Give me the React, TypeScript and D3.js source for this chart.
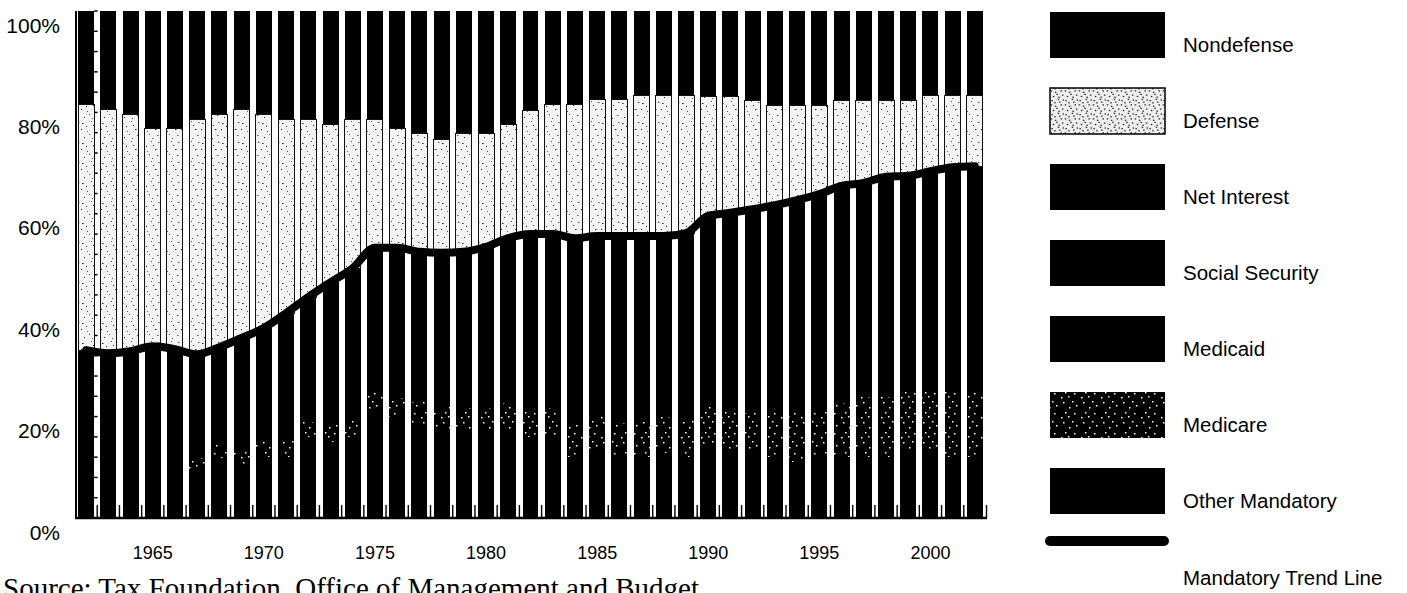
import React from 'react';
import * as d3 from 'd3';

// ---------- DATA (percent of total federal outlays) ----------
const years = [
  1962, 1963, 1964, 1965, 1966, 1967, 1968, 1969, 1970, 1971,
  1972, 1973, 1974, 1975, 1976, 1977, 1978, 1979, 1980, 1981,
  1982, 1983, 1984, 1985, 1986, 1987, 1988, 1989, 1990, 1991,
  1992, 1993, 1994, 1995, 1996, 1997, 1998, 1999, 2000, 2001, 2002,
];

const otherMandatory = [
  13.6, 11.8, 12.7, 12.1, 11.3, 9.1, 11.8, 10.5, 12.0, 12.0,
  16.0, 15.0, 16.0, 20.9, 19.9, 18.3, 17.0, 17.0, 17.0, 17.0,
  16.0, 16.4, 12.0, 13.0, 12.0, 12.0, 12.8, 12.0, 14.0, 13.0,
  13.0, 12.0, 11.0, 12.0, 12.0, 12.0, 12.0, 13.0, 13.0, 12.0, 12.0,
];

const medicare = [
  0, 0, 0, 0, 0.1, 2.8, 2.6, 3.0, 3.0, 3.4,
  3.0, 3.4, 3.4, 4.3, 3.7, 4.5, 4.9, 4.7, 4.7, 5.7,
  5.3, 5.3, 6.7, 6.9, 6.7, 6.9, 7.1, 7.3, 7.9, 7.9,
  7.7, 8.7, 10.3, 9.5, 10.7, 11.8, 11.8, 11.8, 11.8, 12.8, 12.8,
];

const medicaid = [
  0, 0, 0, 0, 0.6, 1.0, 1.2, 1.3, 1.4, 1.6,
  1.9, 1.8, 1.9, 2.1, 2.1, 2.4, 2.4, 2.5, 2.4, 2.4,
  2.3, 2.3, 2.4, 2.4, 2.5, 2.7, 2.9, 3.0, 3.1, 3.8,
  4.6, 5.3, 5.6, 5.9, 6.5, 6.3, 5.9, 5.9, 7.1, 7.1, 7.3,
];

const socialSecurity = [
  13.0, 13.7, 13.2, 14.5, 14.3, 12.9, 11.9, 13.8, 13.7, 16.4,
  16.0, 19.2, 20.1, 19.0, 20.4, 20.0, 20.3, 19.8, 20.5, 20.0,
  21.0, 20.9, 21.1, 19.6, 20.7, 20.2, 18.5, 19.1, 19.9, 21.2,
  21.2, 21.6, 21.9, 21.2, 20.8, 20.8, 23.0, 23.3, 24.0, 26.2, 27.3,
];

const netInterest = [
  6.5, 7.0, 7.0, 7.3, 7.0, 6.5, 6.2, 6.9, 7.4, 7.0,
  6.7, 7.1, 7.9, 7.0, 7.2, 7.3, 7.7, 8.5, 8.9, 10.1,
  11.4, 11.1, 13.0, 13.7, 13.7, 13.8, 14.3, 14.8, 14.7, 14.3,
  14.4, 14.1, 13.9, 15.3, 15.5, 15.2, 14.6, 13.5, 12.5, 11.1, 10.0,
];

const defense = [
  48.6, 48.2, 46.8, 43.0, 43.6, 46.4, 46.0, 45.2, 42.2, 38.3,
  35.1, 31.2, 29.4, 25.4, 23.6, 23.4, 22.5, 23.4, 22.4, 22.5,
  24.5, 25.7, 26.5, 27.0, 27.0, 27.8, 27.8, 27.2, 23.6, 23.0,
  21.5, 19.8, 18.8, 17.6, 16.9, 16.3, 15.1, 14.9, 15.0, 14.2, 14.0,
];

const nondefense = [
  18.3, 19.3, 20.3, 23.1, 23.1, 21.3, 20.3, 19.3, 20.3, 21.3,
  21.3, 22.3, 21.3, 21.3, 23.1, 24.1, 25.2, 24.1, 24.1, 22.3,
  19.5, 18.3, 18.3, 17.4, 17.4, 16.6, 16.6, 16.6, 16.8, 16.8,
  17.6, 18.5, 18.5, 18.5, 17.6, 17.6, 17.6, 17.6, 16.6, 16.6, 16.6,
];

const mandatoryTrend = [
  33.1, 32.5, 32.9, 33.9, 33.3, 32.3, 33.7, 35.5, 37.5, 40.4,
  43.6, 46.5, 49.3, 53.3, 53.3, 52.5, 52.3, 52.5, 53.5, 55.2,
  56.0, 56.0, 55.2, 55.6, 55.6, 55.6, 55.6, 56.2, 59.6, 60.2,
  60.9, 61.7, 62.7, 63.9, 65.5, 66.1, 67.3, 67.5, 68.4, 69.2, 69.4,
];

const seriesKeys = [
  'Other Mandatory', 'Medicare', 'Medicaid', 'Social Security',
  'Net Interest', 'Defense', 'Nondefense',
];
const seriesValues = [
  otherMandatory, medicare, medicaid, socialSecurity,
  netInterest, defense, nondefense,
];
const legendLabels = [
  'Nondefense', 'Defense', 'Net Interest', 'Social Security',
  'Medicaid', 'Medicare', 'Other Mandatory',
];
const trendLabel = 'Mandatory Trend Line';
const yTickValues = [0, 20, 40, 60, 80, 100];
const yTickLabels = ['0%', '20%', '40%', '60%', '80%', '100%'];
const xTickYears = [1965, 1970, 1975, 1980, 1985, 1990, 1995, 2000];
const sourceText = 'Source: Tax Foundation, Office of Management and Budget.';

// texture dot positions for the stipple patterns
const lightDots = [
  [2, 3], [7, 11], [13, 5], [17, 15], [4, 17], [11, 1], [15, 9], [9, 14],
  [1, 9], [18, 2], [6, 6], [12, 18],
];
const darkDots = [
  [3, 2], [9, 7], [14, 13], [5, 12], [1, 17], [12, 1], [16, 5], [8, 16],
];

const SANS = '"Liberation Sans", Arial, Helvetica, sans-serif';
const SERIF = '"Liberation Serif", "Times New Roman", serif';

function fillFor(key: string) {
  if (key === 'Defense') return 'url(#defPat)';
  if (key === 'Medicare') return 'url(#medPat)';
  return '#000';
}

export default function App() {
  const W = 1407;
  const H = 593;
  const x0 = 75, x1 = 986, yTop = 11, yBot = 518;

  const x = d3.scaleBand<number>()
    .domain(years)
    .range([x0, x1])
    .paddingInner(0.28)
    .paddingOuter(0.14);
  const y = d3.scaleLinear().domain([0, 100]).range([yBot, yTop]);

  const rows = years.map((yr, i) => {
    const r: any = { year: yr };
    seriesKeys.forEach((k, j) => { r[k] = seriesValues[j][i]; });
    return r;
  });
  const stacked = d3.stack<any>().keys(seriesKeys).offset(d3.stackOffsetExpand)(rows);

  const bw = x.bandwidth();
  const cx = (yr: number) => (x(yr) as number) + bw / 2;

  const trendPath = d3.line<number>()
    .x((_, i) => cx(years[i]))
    .y((d) => y(d))
    .curve(d3.curveMonotoneX)(mandatoryTrend) as string;

  const gap = x.step() - bw;
  const gapTicks = years.slice(0, -1).map((yr) => (x(yr) as number) + bw + gap / 2);
  const ladder = d3.range(0, 101, 4);

  const legX = 1050, legW = 115, legH = 46, legTop = 12, legStep = 76;
  const labX = 1183;

  return (
    <div style={{ position: 'absolute', left: 0, top: 0 }}>
      <svg width={W} height={H} viewBox={`0 0 ${W} ${H}`} style={{ display: 'block', background: '#fff' }}>
        <defs>
          <pattern id="defPat" width="20" height="20" patternUnits="userSpaceOnUse">
            <rect width="20" height="20" fill="#f3f3f3" />
            {lightDots.map(([a, b], i) => (
              <rect key={i} x={a} y={b} width={i % 3 === 0 ? 1.5 : 1} height={1} fill={i % 2 ? '#555' : '#222'} />
            ))}
          </pattern>
          <pattern id="defPatLeg" width="14" height="14" patternUnits="userSpaceOnUse">
            <rect width="14" height="14" fill="#eeeeee" />
            {lightDots.map(([a, b], i) => (
              <rect key={i} x={(a * 0.7) % 14} y={(b * 0.7) % 14} width={1.5} height={1.2} fill="#222" />
            ))}
          </pattern>
          <pattern id="medPat" width="20" height="20" patternUnits="userSpaceOnUse">
            <rect width="20" height="20" fill="#000" />
            {darkDots.map(([a, b], i) => (
              <rect key={i} x={a} y={b} width={1.5} height={1.5} fill="#fff" />
            ))}
          </pattern>
        </defs>

        {/* stacked bars */}
        {stacked.map((s) => (
          <g key={s.key} fill={fillFor(s.key)} shapeRendering="crispEdges">
            {s.map((d, i) => {
              const top = Math.round(y(d[1] * 100));
              const bot = Math.round(y(d[0] * 100));
              const h = bot - top;
              if (h <= 0) return null;
              return (
                <rect
                  key={i}
                  x={x(years[i])}
                  y={top}
                  width={bw}
                  height={h}
                  stroke={s.key === 'Defense' ? '#111' : 'none'}
                  strokeWidth={s.key === 'Defense' ? 1 : 0}
                />
              );
            })}
          </g>
        ))}

        {/* trend line */}
        <path d={trendPath} fill="none" stroke="#000" strokeWidth={8} strokeLinecap="round" strokeLinejoin="round" />

        {/* axes */}
        <line x1={x0 + 1} x2={x0 + 1} y1={yTop} y2={yBot + 1} stroke="#000" strokeWidth={2} />
        <line x1={x0} x2={x1 + 1} y1={yBot} y2={yBot} stroke="#000" strokeWidth={2.5} />
        {gapTicks.map((gx, i) => (
          <line key={i} x1={gx} x2={gx} y1={yBot - 13} y2={yBot} stroke="#000" strokeWidth={1.4} />
        ))}
        <line x1={x1 + 0.5} x2={x1 + 0.5} y1={yBot - 13} y2={yBot} stroke="#000" strokeWidth={1.4} />
        {ladder.map((v) => (
          <line key={v} x1={(x(years[0]) as number) + bw} x2={(x(years[0]) as number) + bw + 3.5} y1={y(v)} y2={y(v)} stroke="#000" strokeWidth={1.5} />
        ))}

        {/* y labels */}
        {yTickValues.map((v, i) => (
          <text key={v} x={60} y={y(v) + 14} textAnchor="end" dominantBaseline="central"
            fontFamily={SANS} fontSize={21} fill="#000">{yTickLabels[i]}</text>
        ))}

        {/* x labels */}
        {xTickYears.map((yr) => (
          <text key={yr} x={cx(yr)} y={553} textAnchor="middle" dominantBaseline="central"
            fontFamily={SANS} fontSize={18} fill="#000">{yr}</text>
        ))}

        {/* legend */}
        {legendLabels.map((lab, i) => {
          const top = legTop + i * legStep;
          const fill = lab === 'Defense' ? 'url(#defPatLeg)' : lab === 'Medicare' ? 'url(#medPat)' : '#000';
          return (
            <g key={lab}>
              <rect x={legX} y={top} width={legW} height={legH} fill={fill}
                stroke="#000" strokeWidth={lab === 'Defense' ? 1.5 : 0} />
              <text x={labX} y={top + 32} dominantBaseline="central" fontFamily={SANS} fontSize={20.5} fill="#000">{lab}</text>
            </g>
          );
        })}
        <line x1={1050} x2={1164} y1={541} y2={541} stroke="#000" strokeWidth={10} strokeLinecap="round" />
        <text x={labX} y={577} dominantBaseline="central" fontFamily={SANS} fontSize={20.5} fill="#000">{trendLabel}</text>

        {/* source */}
        <text x={3} y={598} fontFamily={SERIF} fontSize={29} fill="#000">{sourceText}</text>
      </svg>
    </div>
  );
}
